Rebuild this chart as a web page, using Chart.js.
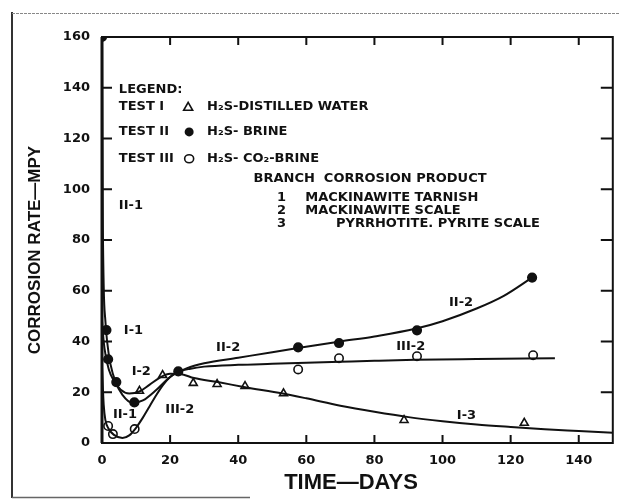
<!DOCTYPE html>
<html><head><meta charset="utf-8">
<script src="https://cdn.jsdelivr.net/npm/chart.js@4.4.1/dist/chart.umd.min.js"></script>
<style>html,body{margin:0;padding:0;background:#fff;overflow:hidden}#wrap{width:619px;height:501px;position:relative}canvas{display:block}</style>
</head><body><div id="wrap"><canvas id="c" width="619" height="501" style="width:619px;height:501px"></canvas></div>
<script>
// ---- tick labels ----
const xTicks = [0, 20, 40, 60, 80, 100, 120, 140];
const yTicks = [0, 20, 40, 60, 80, 100, 120, 140, 160];

// ---- measured points ----
const test1Days = [11, 17.8, 26.8, 33.8, 42, 53.3, 88.7, 124];
const test1Rate = [20.5, 26.7, 23.6, 23.2, 22.4, 19.5, 9, 7.9];
const test2Days = [0, 1.3, 1.8, 4.2, 9.5, 22.4, 57.6, 69.6, 92.5, 126.3];
const test2Rate = [160, 44.5, 33, 24, 16, 28.2, 37.7, 39.4, 44.4, 65.2];
const test3Days = [1.8, 3.2, 9.6, 57.6, 69.6, 92.5, 126.6];
const test3Rate = [6.7, 3.5, 5.5, 29, 33.4, 34.2, 34.6];

// ---- fitted curves ----
const curve1Days = [0, 0.5, 1, 2, 3.5, 5.5, 8, 11, 14, 17, 20, 23, 27, 34, 42, 53, 60, 70, 80, 90, 100, 110, 120, 130, 140, 150];
const curve1Rate = [48, 40, 35, 29, 24.5, 21, 19.5, 20.3, 23, 25.8, 27.3, 27.2, 25.6, 24, 22, 19.5, 17.6, 14.7, 12.3, 10.2, 8.6, 7.3, 6.3, 5.4, 4.7, 4];
const curve2Days = [0, 0.2, 0.5, 1, 1.5, 2.5, 4, 6, 9, 12, 16, 20, 25, 30, 40, 50, 58, 70, 80, 92, 100, 110, 118, 126.3];
const curve2Rate = [160, 95, 62, 48, 40, 31, 24, 19, 15.8, 16.8, 21, 26, 29.5, 31.4, 33.6, 35.8, 37.5, 40, 42, 45, 48, 53, 58, 65.2];
const curve3Days = [0, 0.5, 1, 2, 3.5, 6, 8, 10, 12, 14, 16, 18, 20, 22, 26, 30, 40, 50, 60, 70, 80, 92, 110, 133];
const curve3Rate = [30, 15, 9, 5.5, 3.2, 2, 3, 6, 10, 14.5, 19, 23, 26, 27.8, 29.3, 30.1, 30.8, 31.2, 31.6, 32, 32.4, 32.8, 33.1, 33.4];

// ---- texts ----
const legendTitle = 'LEGEND:';
const testNames = ['TEST I', 'TEST II', 'TEST III'];
const testMedia = ['H₂S-DISTILLED WATER', 'H₂S- BRINE', 'H₂S- CO₂-BRINE'];
const branchHeader = 'BRANCH  CORROSION PRODUCT';
const branchNums = ['1', '2', '3'];
const branchProducts = ['MACKINAWITE TARNISH', 'MACKINAWITE SCALE', 'PYRRHOTITE. PYRITE SCALE'];
const branchLabels = ['II-1', 'I-1', 'I-2', 'II-1', 'III-2', 'II-2', 'II-2', 'III-2', 'I-3'];
const xTitle = 'TIME—DAYS';
const yTitle = 'CORROSION RATE—MPY';

const pts = (xs, ys) => xs.map((d, i) => ({x: d, y: ys[i]}));

// placement (data coordinates)
const legendRows = [132.5, 122.6, 112.0];
const productRows = [96.7, 91.6, 86.5];
const branchLabelPos = [[4.95, 93.6], [6.4, 44.4], [8.7, 28.3], [3.2, 11.0], [18.6, 13.0], [33.5, 37.7], [101.9, 55.4], [86.4, 38.1], [104.2, 10.6]];

const INK = '#111';
const TXT = 'bold 13px "DejaVu Sans"';

const decor = {
  id: 'decor',
  beforeDraw(chart) {
    const ctx = chart.ctx;
    ctx.save();
    ctx.fillStyle = '#fff';
    ctx.fillRect(0, 0, chart.width, chart.height);
    ctx.strokeStyle = '#333'; ctx.lineWidth = 2;
    ctx.beginPath(); ctx.moveTo(12, 12); ctx.lineTo(12, 498); ctx.stroke();
    ctx.strokeStyle = '#888'; ctx.lineWidth = 1; ctx.setLineDash([3, 1]);
    ctx.beginPath(); ctx.moveTo(12, 13.5); ctx.lineTo(619, 13.5); ctx.stroke();
    ctx.setLineDash([]);
    ctx.strokeStyle = '#666'; ctx.lineWidth = 1.5;
    ctx.beginPath(); ctx.moveTo(12, 497.5); ctx.lineTo(250, 497.5); ctx.stroke();
    ctx.restore();
  },
  afterDraw(chart) {
    const {ctx, chartArea: ca, scales: {x, y}} = chart;
    ctx.save();
    ctx.strokeStyle = INK; ctx.fillStyle = INK;
    // frame
    ctx.lineWidth = 2;
    ctx.strokeRect(ca.left, ca.top, ca.right - ca.left, ca.bottom - ca.top);
    ctx.lineWidth = 3;
    ctx.beginPath(); ctx.moveTo(ca.left, ca.top); ctx.lineTo(ca.left, ca.bottom); ctx.stroke();
    // inward ticks
    ctx.lineWidth = 2;
    ctx.beginPath();
    yTicks.forEach(v => {
      if (v === 0 || v === 160) return;
      const py = y.getPixelForValue(v);
      ctx.moveTo(ca.left, py); ctx.lineTo(ca.left + 10, py);
      ctx.moveTo(ca.right - 12, py); ctx.lineTo(ca.right, py);
    });
    xTicks.forEach(v => {
      if (v === 0) return;
      const px = x.getPixelForValue(v);
      ctx.moveTo(px, ca.top); ctx.lineTo(px, ca.top + 8);
      ctx.moveTo(px, ca.bottom - 8); ctx.lineTo(px, ca.bottom);
    });
    ctx.stroke();

    // axis titles
    ctx.textBaseline = 'middle';
    ctx.textAlign = 'center';
    ctx.font = 'bold 22px "Liberation Sans"';
    ctx.fillText(xTitle, 351, 483);
    ctx.save();
    ctx.translate(35, (ca.top + ca.bottom) / 2 + 10);
    ctx.rotate(-Math.PI / 2);
    ctx.font = 'bold 17px "Liberation Sans"';
    ctx.fillText(yTitle, 0, 0);
    ctx.restore();

    // legend
    const X = v => x.getPixelForValue(v), Y = v => y.getPixelForValue(v);
    ctx.font = TXT;
    ctx.textAlign = 'left';
    ctx.fillText(legendTitle, X(4.95), Y(139.2));
    testNames.forEach((t, i) => {
      ctx.fillText(t, X(4.95), Y(legendRows[i]));
      ctx.fillText(testMedia[i], X(30.85), Y(legendRows[i]));
    });
    // legend markers
    const mx = X(25.3);
    ctx.lineWidth = 1.6;
    let my = Y(legendRows[0]);
    ctx.beginPath(); ctx.moveTo(mx, my - 4.5); ctx.lineTo(mx + 4.5, my + 3.5); ctx.lineTo(mx - 4.5, my + 3.5); ctx.closePath(); ctx.stroke();
    my = Y(legendRows[1]);
    ctx.beginPath(); ctx.arc(mx + 1, my, 4.5, 0, Math.PI * 2); ctx.fill();
    my = Y(legendRows[2]);
    ctx.beginPath(); ctx.ellipse(mx + 1, my, 4.5, 4, 0, 0, Math.PI * 2); ctx.stroke();

    ctx.fillText(branchHeader, X(44.5), Y(104.2));
    branchNums.forEach((n, i) => {
      ctx.textAlign = 'center';
      ctx.fillText(n, X(52.7), Y(productRows[i]));
      ctx.textAlign = 'left';
      ctx.fillText(branchProducts[i], X(i === 2 ? 68.7 : 59.7), Y(productRows[i]));
    });
    // branch labels
    branchLabels.forEach((t, i) => {
      ctx.fillText(t, X(branchLabelPos[i][0]), Y(branchLabelPos[i][1]));
    });
    ctx.restore();
  }
};

const curveStyle = {type: 'line', borderColor: INK, borderWidth: 2, pointRadius: 0, fill: false, cubicInterpolationMode: 'monotone', showLine: true};
const markStyle = {type: 'scatter', borderColor: INK, borderWidth: 1.6, showLine: false};

new Chart(document.getElementById('c'), {
  type: 'scatter',
  data: {
    datasets: [
      {...curveStyle, label: 'I', data: pts(curve1Days, curve1Rate)},
      {...curveStyle, label: 'II', data: pts(curve2Days, curve2Rate)},
      {...curveStyle, label: 'III', data: pts(curve3Days, curve3Rate)},
      {...markStyle, label: 'TEST I', data: pts(test1Days, test1Rate), pointStyle: 'triangle', pointRadius: 4.6, backgroundColor: '#fff'},
      {...markStyle, label: 'TEST II', data: pts(test2Days, test2Rate), pointStyle: 'circle', pointRadius: 4.3, backgroundColor: INK},
      {...markStyle, label: 'TEST III', data: pts(test3Days, test3Rate), pointStyle: 'circle', pointRadius: 4.2, backgroundColor: '#fff'}
    ]
  },
  options: {
    responsive: false,
    maintainAspectRatio: false,
    animation: false,
    devicePixelRatio: 1,
    layout: {padding: {left: 0, right: 4, top: 37, bottom: 0}},
    plugins: {legend: {display: false}, tooltip: {enabled: false}},
    scales: {
      x: {
        type: 'linear', min: 0, max: 150,
        grid: {display: false, drawTicks: false}, border: {display: false},
        ticks: {stepSize: 20, includeBounds: false, padding: 10, maxRotation: 0, color: INK, font: {family: 'DejaVu Sans', weight: 'bold', size: 13},
          callback: v => xTicks.includes(v) ? String(v) : null},
        afterFit: s => { s.height = 58; }
      },
      y: {
        type: 'linear', min: 0, max: 160,
        grid: {display: false, drawTicks: false}, border: {display: false},
        ticks: {stepSize: 20, padding: 12, color: INK, font: {family: 'DejaVu Sans', weight: 'bold', size: 13},
          callback: v => yTicks.includes(v) ? String(v) : null},
        afterFit: s => { s.width = 102; }
      }
    }
  },
  plugins: [decor]
});
</script>
</body></html>
